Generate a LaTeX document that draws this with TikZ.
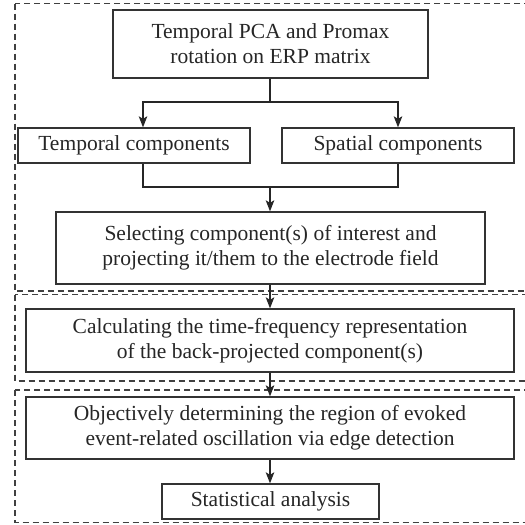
\documentclass[tikz,border=0pt]{standalone}
\usepackage{fontspec}
\setmainfont{Liberation Serif}
\usetikzlibrary{arrows.meta}
\begin{document}
\begin{tikzpicture}[x=1pt,y=-1pt,
  box/.style={draw=black!80,line width=1.3pt,inner sep=0pt,align=center,font=\fontsize{21.5}{25}\selectfont,text=black!85},
  frame/.style={draw=black!75,line width=1.3pt,dash pattern=on 6pt off 4pt},
  arr/.style={draw=black!85,line width=1.3pt,-{Stealth[length=11pt,width=8.5pt,inset=2.5pt]}},
  ln/.style={draw=black!85,line width=1.3pt}]
\clip (0,0) rectangle (525,525);
\fill[white] (0,0) rectangle (525,525);
\draw[frame] (15,3.5) rectangle (540,291);
\draw[frame] (15,294.5) rectangle (540,381);
\draw[frame] (15,390) rectangle (540,522.5);
\node[box,minimum width=315pt,minimum height=68pt] (pca) at (270.5,44) {Temporal PCA and Promax\\rotation on ERP matrix};
\node[box,minimum width=232pt,minimum height=35pt] (tmp) at (134,145.5) {Temporal components};
\node[box,minimum width=232pt,minimum height=35pt] (spa) at (398,145.5) {Spatial components};
\node[box,minimum width=429pt,minimum height=72pt] (sel) at (270.5,248) {Selecting component(s) of interest and\\projecting it/them to the electrode field};
\node[box,minimum width=488pt,minimum height=63pt] (calc) at (270,340.5) {Calculating the time-frequency representation\\of the back-projected component(s)};
\node[box,minimum width=488pt,minimum height=62pt] (obj) at (270,428) {Objectively determining the region of evoked\\event-related oscillation via edge detection};
\node[box,minimum width=217pt,minimum height=35pt] (stat) at (270.5,501.5) {Statistical analysis};
\coordinate (split) at (270,102);
\coordinate (merge) at (270,187);
\draw[ln] (pca.south -| split) -- (split);
\draw[arr] (split) -- (143,102) -- (tmp.north -| 143,0);
\draw[arr] (split) -- (398,102) -- (spa.north);
\draw[ln] (tmp.south -| 143,0) -- (143,187) -- (398,187) -- (spa.south);
\draw[arr] (merge) -- (sel.north -| merge);
\draw[arr] (sel.south -| merge) -- (calc.north -| merge);
\draw[arr] (calc.south -| merge) -- (obj.north -| merge);
\draw[arr] (obj.south -| merge) -- (stat.north -| merge);
\end{tikzpicture}
\end{document}
